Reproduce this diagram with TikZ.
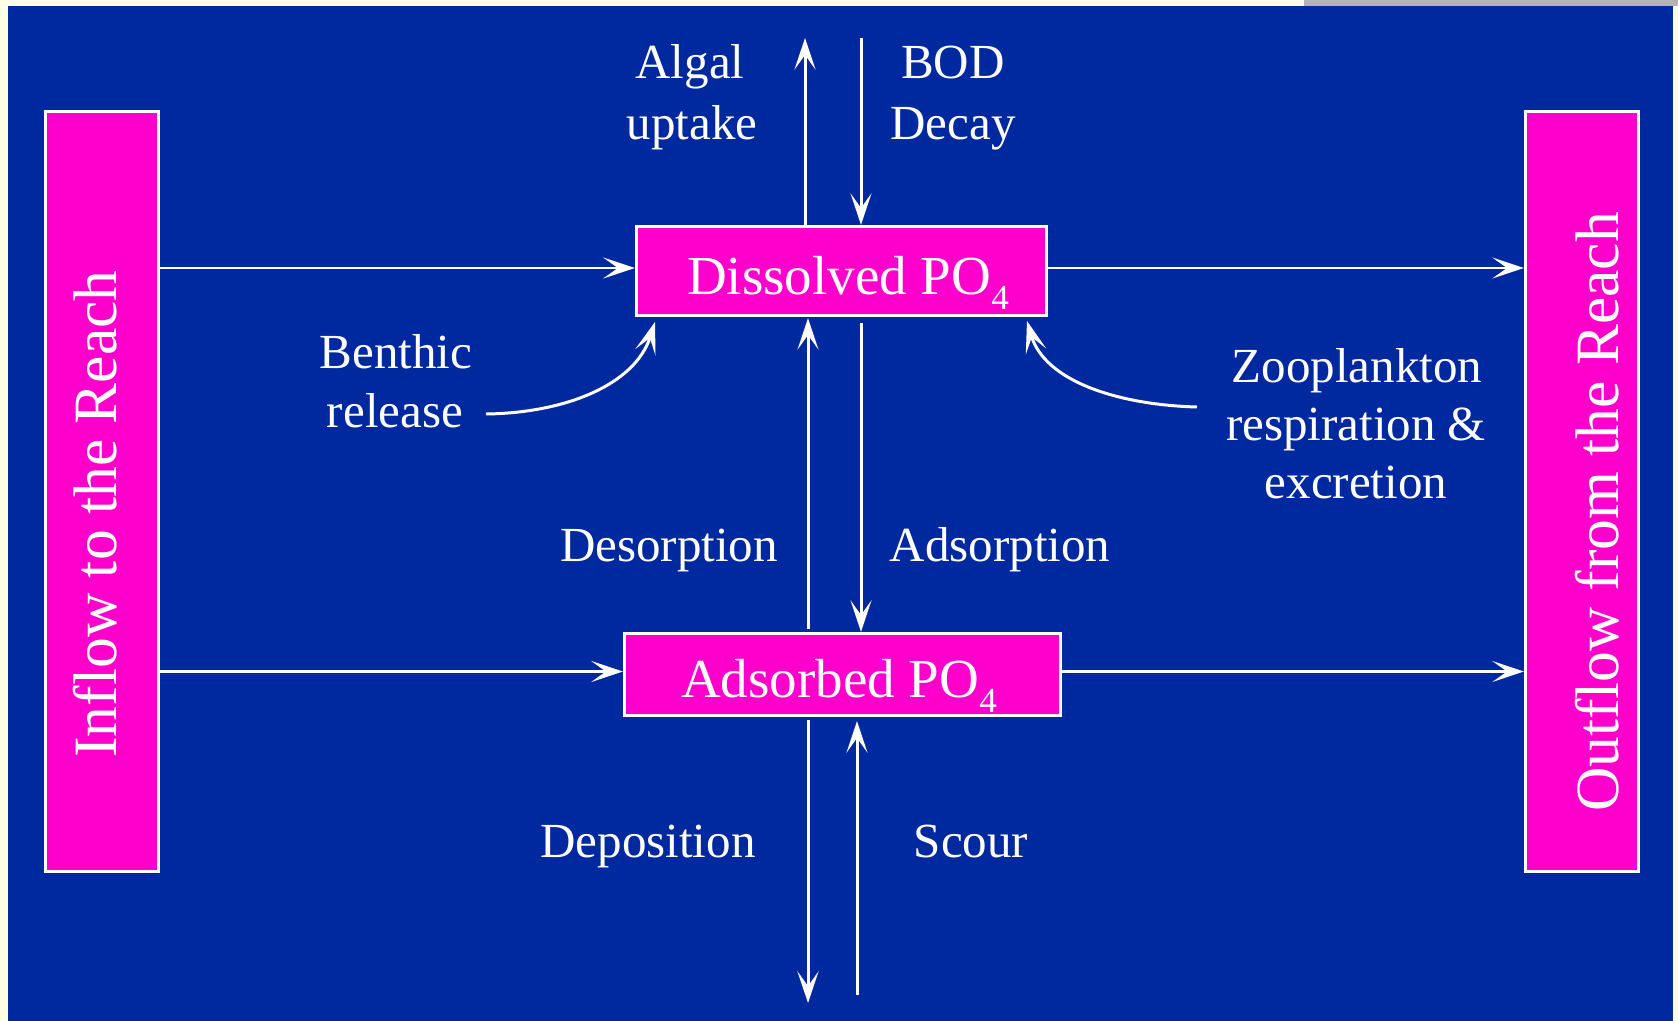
\documentclass[tikz,border=0pt]{standalone}
\usepackage{fontspec}
\setmainfont{Liberation Serif}
\usetikzlibrary{arrows.meta,calc}
\definecolor{bgblue}{RGB}{0,41,160}
\definecolor{mag}{RGB}{255,0,204}
\definecolor{cream}{RGB}{255,255,230}
\definecolor{stripgray}{RGB}{179,179,179}
\newcommand{\posub}[1]{\raisebox{-4.3pt}{\fontsize{10pt}{11pt}\selectfont #1}}
\begin{document}
\begin{tikzpicture}[x=0.01cm,y=-0.01cm,
  box/.style={draw=white,fill=mag,line width=0.9pt,inner sep=0pt},
  arr/.style={draw=white,line width=0.85pt,-{Stealth[length=9pt,width=6pt,inset=4.2pt]}},
  lbl/.style={text=white,font=\fontsize{13.94pt}{17pt}\selectfont,anchor=base,inner sep=0pt},
  boxtxt/.style={text=white,font=\fontsize{15.65pt}{18pt}\selectfont,anchor=base,inner sep=0pt},
  vtxt/.style={text=white,font=\fontsize{17.5pt}{20pt}\selectfont,anchor=base,rotate=90,inner sep=0pt}]
% background
\fill[cream] (0,0) rectangle (1678,1021);
\fill[stripgray] (1304,0) rectangle (1678,6);
\fill[bgblue] (8,6) rectangle (1673,1021);
\useasboundingbox (0,0) rectangle (1678,1021);
% boxes
\node[box,minimum width=1.13cm,minimum height=7.60cm] (lin) at (102,491.5) {};
\node[box,minimum width=1.13cm,minimum height=7.60cm] (rout) at (1582,491.5) {};
\node[box,minimum width=4.10cm,minimum height=0.89cm] (dis) at (841.5,271) {};
\node[box,minimum width=4.36cm,minimum height=0.82cm] (ads) at (842.5,674.5) {};
% box texts
\node[boxtxt] (distxt) at (848,294) {Dissolved PO\posub{4}};
\node[boxtxt] (adstxt) at (839,697) {Adsorbed PO\posub{4}};
\node[vtxt] (intxt) at (116,514) {Inflow to the Reach};
\node[vtxt] (outtxt) at (1618,512) {Outflow from the Reach};
% labels
\node[lbl] (l1a) at (690,78) {Algal};
\node[lbl] (l1b) at (692,139) {uptake};
\node[lbl] (l2a) at (953,78) {BOD};
\node[lbl] (l2b) at (953,139) {Decay};
\node[lbl] (l3a) at (396,368) {Benthic};
\node[lbl] (l3b) at (395,427) {release};
\node[lbl] (l4a) at (1357,382) {Zooplankton};
\node[lbl] (l4b) at (1356,440) {respiration \&};
\node[lbl] (l4c) at (1356,498) {excretion};
\node[lbl] (l5) at (669,561) {Desorption};
\node[lbl] (l6) at (1000,561) {Adsorption};
\node[lbl] (l7) at (648,857) {Deposition};
\node[lbl] (l8) at (971,857) {Scour};
% free ends
\coordinate (algT) at (805,38);
\coordinate (bodT) at (861,38);
\coordinate (depB) at (808,1003);
\coordinate (scB) at (857,995);
\coordinate (benS) at (486,414);
\coordinate (benT) at (655,322);
\coordinate (zooS) at (1197,407);
\coordinate (zooT) at (1027,321);
% vertical arrows
\draw[arr] (dis.north -| algT) -- (algT);
\draw[arr] (bodT) -- (dis.north -| bodT);
\draw[arr] ($(ads.north)+(-34.5,-3)$) -- ($(dis.south)+(-33.5,1)$);
\draw[arr] ($(dis.south)+(19.5,6)$) -- (ads.north -| bodT);
\draw[arr] ($(ads.south)+(-34.5,3)$) -- (depB);
\draw[arr] (scB) -- ($(ads.south)+(14.5,4)$);
% horizontal arrows
\draw[arr] ($(lin.east |- dis.west)+(0,-3)$) -- ($(dis.west)+(0,-3)$);
\draw[arr] ($(dis.east)+(0,-3)$) -- ($(rout.west |- dis.east)+(0,-3)$);
\draw[arr] ($(lin.east |- ads.west)+(0,-3)$) -- ($(ads.west)+(0,-3)$);
\draw[arr] ($(ads.east)+(0,-3)$) -- ($(rout.west |- ads.east)+(0,-3)$);
% curved arrows
\draw[arr] (benS) .. controls (565,413) and (635,385) .. (benT);
\draw[arr] (zooS) .. controls (1120,405) and (1045,382) .. (zooT);
\end{tikzpicture}
\end{document}
